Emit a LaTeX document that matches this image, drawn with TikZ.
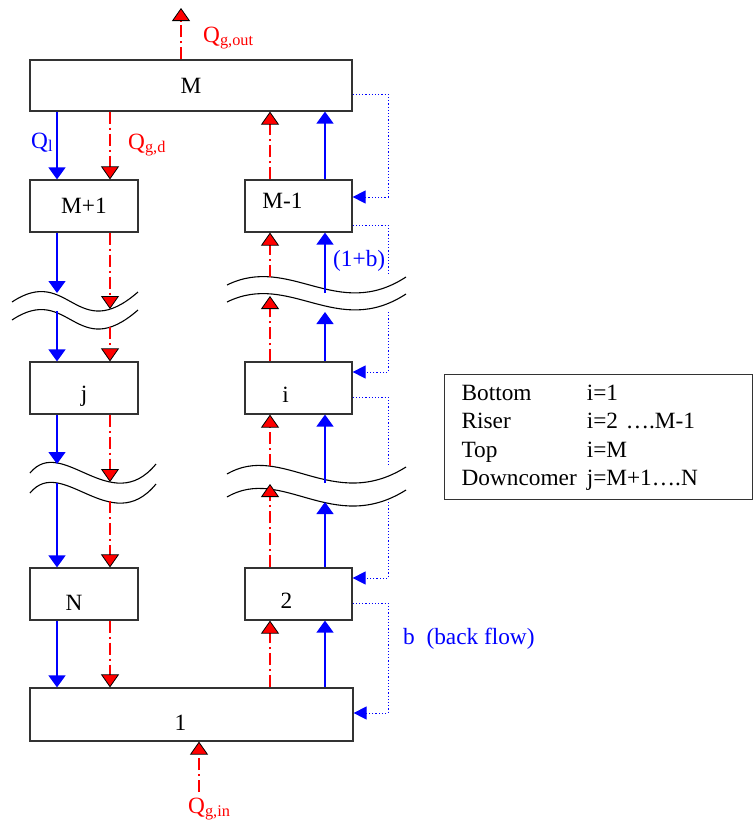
\documentclass[tikz,border=0pt]{standalone}
\usepackage{fontspec}
\setmainfont{Liberation Serif}
\usetikzlibrary{arrows.meta}
\definecolor{liqblue}{RGB}{0,0,255}
\definecolor{gasred}{RGB}{255,0,0}

\begin{document}
\begin{tikzpicture}[x=1bp,y=-1bp,
  font=\fontsize{23.3bp}{28.5bp}\selectfont,
  box/.style={draw=black!80,line width=1.2bp,minimum width=108bp,minimum height=52bp,inner sep=0pt},
  lbl/.style={inner sep=0pt},
  liq/.style={liqblue,line width=1.4bp,-{Triangle[length=12bp,width=17bp]}},
  gas/.style={gasred,line width=1.2bp,dash pattern=on 12bp off 4bp on 2bp off 4bp,
    -{Triangle[length=13bp,width=18bp,color=black,fill=gasred,line width=0.8bp]}},
  back/.style={liqblue,line width=1bp,dash pattern=on 1.2bp off 2bp,-{Triangle[length=13bp,width=13bp]}},
  brk/.style={black,line width=1.1bp}]
\useasboundingbox (0,0) rectangle (755,826);

% cells
\node[box,minimum width=322bp,minimum height=51bp] (M) at (191,85.5) {M};
\node[box] (Mp1) at (84,206) {M+1};
\node[box,minimum width=107bp,label={[lbl,xshift=-16bp,yshift=5bp]center:M-1}] (Mm1) at (298.5,206) {};
\node[box,label={[lbl,yshift=-8bp]center:j}] (j) at (84,388) {};
\node[box,minimum width=107bp,label={[lbl,xshift=-13bp,yshift=-7bp]center:i}] (i) at (298.5,388) {};
\node[box,label={[lbl,xshift=-10bp,yshift=-8.5bp]center:N}] (N) at (84,594) {};
\node[box,minimum width=107bp,label={[lbl,xshift=-12bp,yshift=-6.5bp]center:2}] (two) at (298.5,594) {};
\node[box,minimum width=323bp,minimum height=53bp,label={[lbl,xshift=-11bp,yshift=-8bp]center:1}] (one) at (191.5,714.5) {};

% columns of the streams
\coordinate (xql) at (57,0);
\coordinate (xgl) at (110,0);
\coordinate (xgr) at (270,0);
\coordinate (xqr) at (325,0);

% breaks
\foreach \dy in {0,18} \draw[brk] (12,302+\dy) .. controls (69,264+\dy) and (76,346+\dy) .. (138,292+\dy);
\foreach \dy in {0,17} \draw[brk] (227,285+\dy) .. controls (290,254+\dy) and (337,322+\dy) .. (406,277+\dy);
\foreach \dy in {0,20} \draw[brk] (30,473+\dy) .. controls (62,434+\dy) and (111,519+\dy) .. (156,464+\dy);
\foreach \dy in {0,23} \draw[brk] (227,474+\dy) .. controls (282,442+\dy) and (333,513+\dy) .. (406,467+\dy);

% open ends at the breaks
\coordinate (la1) at (57,293);  \coordinate (la2) at (110,309);
\coordinate (la3) at (57,311);  \coordinate (la4) at (110,327);
\coordinate (lb1) at (57,464);  \coordinate (lb2) at (110,482);
\coordinate (lb3) at (57,483);  \coordinate (lb4) at (110,501);
\coordinate (ra1) at (270,296); \coordinate (ra2) at (325,312);
\coordinate (ra3) at (270,277); \coordinate (ra4) at (325,293);
\coordinate (rb1) at (270,484); \coordinate (rb2) at (325,502);
\coordinate (rb3) at (270,466); \coordinate (rb4) at (325,483);
\coordinate (gout) at (181,8);
\coordinate (gin) at (199,792);

% downcomer
\draw[liq] (M.south -| xql) -- (Mp1.north -| xql);
\draw[gas] (M.south -| xgl) -- (Mp1.north -| xgl);
\draw[liq] (Mp1.south -| xql) -- (la1);
\draw[gas] (Mp1.south -| xgl) -- (la2);
\draw[liq] (la3) -- (j.north -| xql);
\draw[gas] (la4) -- (j.north -| xgl);
\draw[liq] (j.south -| xql) -- (lb1);
\draw[gas] (j.south -| xgl) -- (lb2);
\draw[liq] (lb3) -- (N.north -| xql);
\draw[gas] (lb4) -- (N.north -| xgl);
\draw[liq] (N.south -| xql) -- (one.north -| xql);
\draw[gas] (N.south -| xgl) -- (one.north -| xgl);

% riser
\draw[gas] (one.north -| xgr) -- (two.south -| xgr);
\draw[liq] (one.north -| xqr) -- (two.south -| xqr);
\draw[gas] (two.north -| xgr) -- (rb1);
\draw[liq] (two.north -| xqr) -- (rb2);
\draw[gas] (rb3) -- (i.south -| xgr);
\draw[liq] (rb4) -- (i.south -| xqr);
\draw[gas] (i.north -| xgr) -- (ra1);
\draw[liq] (i.north -| xqr) -- (ra2);
\draw[gas] (ra3) -- (Mm1.south -| xgr);
\draw[liq] (ra4) -- (Mm1.south -| xqr);
\draw[gas] (Mm1.north -| xgr) -- (M.south -| xgr);
\draw[liq] (Mm1.north -| xqr) -- (M.south -| xqr);

% gas in and out
\draw[gas] (M.north -| gout) -- (gout);
\draw[gas] (gin) -- (one.south -| gin);

% back flow
\coordinate (bf0) at (388,197);
\coordinate (bf1) at (388,273);
\coordinate (bf2) at (388,312);
\coordinate (bf3) at (388,465);
\coordinate (bf4) at (388,502);
\coordinate (bf5) at (388,713);
\draw[back] ([yshift=-8.5bp]M.east) -| (bf0) -- (Mm1.east |- bf0);
\draw[back,-] ([yshift=-19bp]Mm1.east) -| (bf1);
\draw[back] (bf2) |- ([yshift=16bp]i.east);
\draw[back,-] ([yshift=-9bp]i.east) -| (bf3);
\draw[back] (bf4) |- ([yshift=16bp]two.east);
\draw[back] ([yshift=-9bp]two.east) -| (bf5) -- (one.east |- bf5);

% labels
\node[lbl,gasred,anchor=base west] (qgout) at (203,42) {Q\textsubscript{g,out}};
\node[lbl,liqblue,anchor=base west] (ql) at (31,148) {Q\textsubscript{l}};
\node[lbl,gasred,anchor=base west] (qgd) at (128,149) {Q\textsubscript{g,d}};
\node[lbl,liqblue,anchor=base west] (oneb) at (333,266) {(1+b)};
\node[lbl,liqblue,anchor=base west] (bflow) at (403,644) {b\ \ (back flow)};
\node[lbl,gasred,anchor=base west] (qgin) at (188,813) {Q\textsubscript{g,in}};

% legend
\node[draw=black!80,line width=1.2bp,anchor=north west,minimum width=308bp,minimum height=125bp,
  text width=274bp,inner xsep=17bp,inner ysep=0pt,align=left] (legend) at (444,374)
  {\begin{tabular}{@{}l@{\hspace{10bp}}l@{}}
   Bottom & i=1\\
   Riser & i=2 ….M-1\\
   Top & i=M\\
   Downcomer & j=M+1….N
   \end{tabular}};
\end{tikzpicture}
\end{document}
